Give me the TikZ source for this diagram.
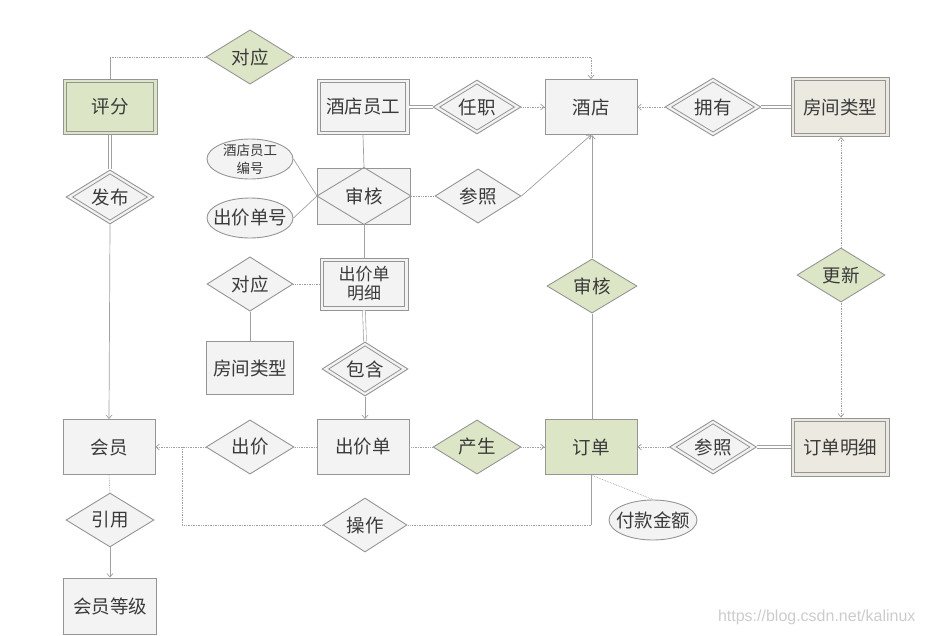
\documentclass[tikz,border=0pt]{standalone}
\usepackage{fontspec}
\newfontfamily\cjk{Noto Sans CJK SC}
\setmainfont{Liberation Sans}
\usetikzlibrary{shapes.geometric,arrows.meta}
\definecolor{bd}{HTML}{959595}
\definecolor{lc}{HTML}{A0A0A0}
\definecolor{lt}{HTML}{F3F3F3}
\definecolor{gr}{HTML}{DCE6C6}
\definecolor{be}{HTML}{ECEAE0}
\definecolor{tx}{HTML}{3A3A3A}
\tikzset{
  lbl/.style={font=\cjk\fontsize{18.5}{22}\selectfont, text=tx},
  ent/.style={lbl, rectangle, draw=bd, line width=0.9pt, fill=lt, minimum width=92pt, minimum height=55pt, inner sep=0pt, align=center},
  went/.style={ent, path picture={\draw[bd, line width=0.8pt]
      ([shift={(3.2pt,-3.2pt)}]path picture bounding box.north west) rectangle
      ([shift={(-3.2pt,3.2pt)}]path picture bounding box.south east);}},
  rel/.style={lbl, diamond, draw=bd, line width=0.9pt, fill=lt, minimum width=88pt, minimum height=52pt, inner sep=0pt},
  wrel/.style={rel, path picture={\draw[bd, line width=0.8pt]
      ([xshift=6.5pt]path picture bounding box.west) --
      ([yshift=-3.8pt]path picture bounding box.north) --
      ([xshift=-6.5pt]path picture bounding box.east) --
      ([yshift=3.8pt]path picture bounding box.south) -- cycle;}},
  attr/.style={ellipse, draw=bd, line width=0.9pt, fill=lt, minimum width=86pt, minimum height=40pt, inner sep=0pt},
  ln/.style={draw=lc, line width=0.7pt},
  dl/.style={ln, densely dotted},
  dbl/.style={draw=lc, line width=0.6pt, double=white, double distance=2.2pt},
  arr/.style={-{Straight Barb[length=3.5pt,width=6pt]}},
}
\begin{document}
\begin{tikzpicture}[x=1pt,y=-1pt]
\useasboundingbox (0,0) rectangle (926,635);
% entities
\node[went, fill=gr, minimum width=94pt] (pf) at (110,107) {评分};
\node[went] (ygs) at (363,107) {酒店员工};
\node[ent] (jd) at (591,107) {酒店};
\node[went, fill=be, minimum width=98pt, minimum height=59pt] (fx1) at (840,107) {房间类型};
\node[went, minimum width=88pt, minimum height=52pt, font=\cjk\fontsize{17}{20}\selectfont] (mx) at (364,284) {出价单\\[-1pt]明细};
\node[ent, minimum width=87pt, minimum height=53pt] (fx2) at (250,368) {房间类型};
\node[ent] (cjd) at (363,447) {出价单};
\node[ent] (hy) at (109,447) {会员};
\node[ent, fill=gr] (dd) at (591,447) {订单};
\node[went, fill=be, minimum width=98pt, minimum height=58pt] (ddmx) at (840,447) {订单明细};
\node[ent, minimum width=93pt, minimum height=56pt] (hydj) at (110,606) {会员等级};
% associative 审核
\node[ent, minimum width=93pt, minimum height=56pt] (shk) at (364,196) {};
\draw[draw=bd, line width=0.9pt] (shk.west) -- (shk.north) -- (shk.east) -- (shk.south) -- cycle;
\node[lbl] at (shk.center) {审核};
% relationships
\node[rel, fill=gr] (dy1) at (250,57) {对应};
\node[wrel] (rz) at (477,107) {任职};
\node[wrel, minimum width=96pt, minimum height=58pt] (yy) at (713,107) {拥有};
\node[wrel] (fb) at (110,197) {发布};
\node[rel, minimum width=86pt] (cz1) at (478,196) {参照};
\node[rel, minimum width=86pt] (dy2) at (250,284) {对应};
\node[wrel, minimum width=86pt, minimum height=50pt] (bh) at (365,369) {包含};
\node[rel, fill=gr, minimum width=90pt] (sh2) at (592,286) {审核};
\node[rel, fill=gr, minimum height=54pt] (gx) at (841,275) {更新};
\node[rel] (cj) at (250,447) {出价};
\node[rel, fill=gr] (cs) at (477,447) {产生};
\node[wrel, minimum width=87pt, minimum height=53pt] (cz2) at (713,447) {参照};
\node[rel] (yyong) at (110,520) {引用};
\node[rel, minimum width=84pt, minimum height=50pt] (cz) at (365,525) {操作};
% attributes
\node[attr, label={[lbl, font=\cjk\fontsize{13.5}{18}\selectfont, align=center]center:酒店员工\\编号}] (bh1) at (250,159) {};
\node[attr, label={[lbl]center:出价单号}] (cjdh) at (250,218) {};
\node[attr, minimum width=88pt, label={[lbl]center:付款金额}] (fkje) at (653,520) {};
% connectors
\draw[ln] (pf.north) -- (pf.north |- dy1.west);
\draw[dl] (pf.north |- dy1.west) -- (dy1.west);
\draw[dl, arr] (dy1.east) -| (jd.north);
\draw[dbl] (ygs.east) -- (rz.west);
\draw[dl, arr] (rz.east) -- (jd.west);
\draw[dbl] (fx1.west) -- (yy.east);
\draw[dl, arr] (yy.west) -- (jd.east);
\draw[dbl] (pf.south) -- (fb.north);
\draw[ln, arr] (fb.south) -- (hy.north);
\draw[ln] (ygs.south) -- (shk.north);
\draw[ln] (bh1.east) -- (shk.west);
\draw[ln] (cjdh.east) -- (shk.west);
\draw[dl] (shk.east) -- (cz1.west);
\draw[ln, arr] (cz1.east) -- (jd.south);
\draw[ln] (shk.south) -- (mx.north);
\draw[dl] (dy2.east) -- (mx.west);
\draw[ln] (dy2.south) -- (fx2.north);
\draw[dbl] (mx.south) -- (bh.north);
\draw[ln, arr] (bh.south) -- (cjd.north -| bh.south);
\draw[dl] (cjd.west) -- (cj.east);
\draw[dl, arr] (cj.west) -- (hy.east);
\draw[dl] (hy.south) -- (yyong.north);
\draw[ln, arr] (yyong.south) -- (hydj.north);
\draw[dl] (cjd.east) -- (cs.west);
\draw[dl, arr] (cs.east) -- (dd.west);
\draw[ln] (dd.north -| sh2.south) -- (sh2.south);
\draw[ln, arr] (sh2.north) -- (jd.south -| sh2.north);
\coordinate (opc) at (591,525);
\coordinate (opl) at (182,525);
\coordinate (opt) at (182,447);
\draw[ln] (dd.south) -- (opc);
\draw[dl] (opc) -- (cz.east);
\draw[dl] (cz.west) -- (opl) -- (opt);
\draw[dl] (dd.south) -- (fkje.north);
\draw[dbl] (ddmx.west) -- (cz2.east);
\draw[dl, arr] (cz2.west) -- (dd.east);
\draw[dl, arr] (gx.north) -- (fx1.south -| gx.north);
\draw[dl, arr] (gx.south) -- (ddmx.north -| gx.south);
% watermark
\node[font=\fontsize{16}{18}\selectfont, text=black!20, anchor=east] (wm) at (919,617) {https://blog.csdn.net/kalinux};
\end{tikzpicture}
\end{document}
